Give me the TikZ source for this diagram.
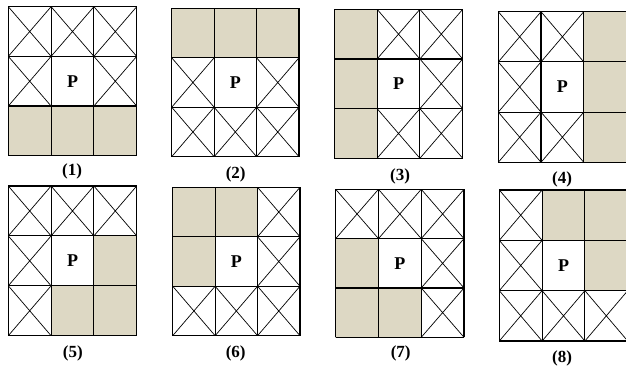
\documentclass[tikz,border=0pt]{standalone}
\usepackage{fontspec}
\setmainfont{Liberation Serif}
\definecolor{shadecol}{RGB}{221,216,196}
\tikzset{
  gridline/.style={line width=1.1pt, black},
  diag/.style={line width=0.7pt, black},
  plabel/.style={font=\fontsize{18}{18}\selectfont\bfseries, inner sep=0pt},
  caplabel/.style={font=\fontsize{17}{17}\selectfont\bfseries, inner sep=0pt}
}
% #1 name, #2 x0, #3 y0, #4 x1, #5 y1, #6 shaded cells c/r, #7 label x, #8 label y
\newcommand\pgrid[8]{%
  \pgfmathsetmacro\gw{(#4-#2)/3}%
  \pgfmathsetmacro\gh{(#5-#3)/3}%
  \foreach \c in {0,1,2}{\foreach \r in {0,1,2}{%
    \draw[diag] ({#2+\c*\gw},{#3+\r*\gh}) -- ({#2+(\c+1)*\gw},{#3+(\r+1)*\gh})
                ({#2+(\c+1)*\gw},{#3+\r*\gh}) -- ({#2+\c*\gw},{#3+(\r+1)*\gh});}}
  \foreach \c/\r in {#6}{%
    \fill[shadecol] ({#2+\c*\gw},{#3+\r*\gh}) rectangle ({#2+(\c+1)*\gw},{#3+(\r+1)*\gh});}
  \fill[white] ({#2+\gw},{#3+\gh}) rectangle ({#2+2*\gw},{#3+2*\gh});
  \foreach \i in {0,1,2,3}{%
    \draw[gridline] ({#2+\i*\gw},#3) -- ({#2+\i*\gw},#5);
    \draw[gridline] (#2,{#3+\i*\gh}) -- (#4,{#3+\i*\gh});}
  \node[plabel] (P#1) at ({#2+1.5*\gw},{#3+1.5*\gh}) {P};
  \node[caplabel] (L#1) at (#7,#8) {(#1)};
}
\begin{document}
\begin{tikzpicture}[x=1pt,y=-1pt]
\useasboundingbox (0,0) rectangle (626,366);
\clip (0,0) rectangle (626,366);
\pgrid{1}{8.3}{6.7}{136.7}{155.7}{0/2,1/2,2/2}{72}{171.4}
\pgrid{2}{171.7}{8.3}{299}{156.7}{0/0,1/0,2/0}{235.7}{174.3}
\pgrid{3}{334.3}{9.3}{462.7}{158.3}{0/0,0/1,0/2}{400}{176.8}
\pgrid{4}{498.3}{11.7}{626.5}{162.3}{2/0,2/1,2/2}{562}{179.3}
\pgrid{5}{8.3}{186}{136.7}{335.7}{2/1,1/2,2/2}{72.9}{353}
\pgrid{6}{172.7}{187.3}{300}{335.7}{0/0,1/0,0/1}{235.7}{353}
\pgrid{7}{335.7}{189.3}{464}{337.3}{0/1,0/2,1/2}{400.7}{353}
\pgrid{8}{499.3}{190}{627.7}{341}{1/0,2/0,2/1}{562}{358.6}
\end{tikzpicture}
\end{document}
